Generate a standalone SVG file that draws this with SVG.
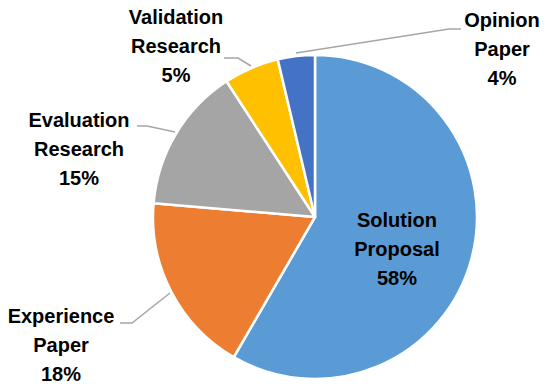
<svg xmlns="http://www.w3.org/2000/svg" width="545" height="384" viewBox="0 0 545 384">
<style>
.s{stroke:#fff;stroke-width:2.5;stroke-linejoin:round}
.l{fill:none;stroke:#A6A6A6;stroke-width:1.5}
text{font-family:"Liberation Sans",Arial,sans-serif;font-weight:bold;font-size:20px;fill:#000;text-anchor:middle}
</style>
<rect width="545" height="384" fill="#fff"/>
<g id="connectors">
<polyline class="l" points="296,53 449,29 461,29"/>
<polyline class="l" points="224,58 238,58 251,66"/>
<polyline class="l" points="137,126 147,126 175,132"/>
<polyline class="l" points="120,323 132,323 170,293"/>
</g>
<g id="solution-proposal">
<path class="s" fill="#5B9BD5" d="M315,217 L315,55 A162,162 0 1 1 233.75,357.16 Z"/>
<text x="397" y="227">Solution</text>
<text x="397" y="256">Proposal</text>
<text x="397" y="285">58%</text>
</g>
<g id="experience-paper">
<path class="s" fill="#ED7D31" d="M315,217 L233.75,357.16 A162,162 0 0 1 153.59,203.16 Z"/>
<text x="61" y="323">Experience</text>
<text x="61" y="352">Paper</text>
<text x="61" y="381">18%</text>
</g>
<g id="evaluation-research">
<path class="s" fill="#A5A5A5" d="M315,217 L153.59,203.16 A162,162 0 0 1 226.53,81.29 Z"/>
<text x="79" y="127">Evaluation</text>
<text x="79" y="156">Research</text>
<text x="79" y="185">15%</text>
</g>
<g id="validation-research">
<path class="s" fill="#FFC000" d="M315,217 L226.53,81.29 A162,162 0 0 1 277.74,59.34 Z"/>
<text x="176" y="24">Validation</text>
<text x="176" y="53">Research</text>
<text x="176" y="82">5%</text>
</g>
<g id="opinion-paper">
<path class="s" fill="#4472C4" d="M315,217 L277.74,59.34 A162,162 0 0 1 315,55 Z"/>
<text x="502" y="27">Opinion</text>
<text x="502" y="56">Paper</text>
<text x="502" y="85">4%</text>
</g>
</svg>
